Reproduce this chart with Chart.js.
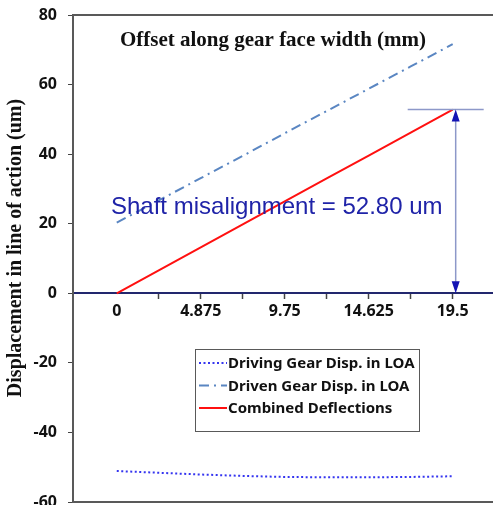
<!DOCTYPE html>
<html>
<head>
<meta charset="utf-8">
<script src="https://cdn.jsdelivr.net/npm/chart.js@4.4.0/dist/chart.umd.min.js"></script>
<style>
  html, body { margin: 0; padding: 0; background: #fff; }
</style>
</head>
<body>
<canvas id="chart" width="493" height="505"></canvas>
<script>
// data
const offsets = [0, 2.4375, 4.875, 7.3125, 9.75, 12.1875, 14.625, 17.0625, 19.5];
const xLabels = ['0', '4.875', '9.75', '14.625', '19.5'];
const yTicks = [-60, -40, -20, 0, 20, 40, 60, 80];
const drivingDisp = [-51.1, -51.6, -52.1, -52.5, -52.8, -52.9, -52.9, -52.8, -52.6];
const drivenDisp = [20.3, 26.7, 33.1, 39.5, 46.0, 52.4, 58.8, 65.2, 71.6];
const combined = [0, 6.6, 13.2, 19.8, 26.4, 33.0, 39.6, 46.2, 52.8];
const seriesNames = ['Driving Gear Disp. in LOA', 'Driven Gear Disp. in LOA', 'Combined Deflections'];
const misalignment = 52.80;

const toPoints = vals => vals.map((v, i) => ({ x: offsets[i], y: v }));

const tickFont = { family: 'Noto Sans', size: 16, weight: 'bold' };

// frame, titles, misalignment arrow and legend box
const decor = {
  id: 'decor',
  afterDraw(chart) {
    const { ctx, chartArea: a, scales } = chart;
    const xs = scales.x, ys = scales.y;
    ctx.save();

    // plot frame (top / left / bottom)
    ctx.strokeStyle = '#595959';
    ctx.lineWidth = 2;
    ctx.beginPath();
    ctx.moveTo(a.right + 2, a.top);
    ctx.lineTo(a.left, a.top);
    ctx.lineTo(a.left, a.bottom);
    ctx.lineTo(a.right + 2, a.bottom);
    ctx.stroke();

    // x axis title inside the plot
    ctx.fillStyle = '#111';
    ctx.font = 'bold 21px "Liberation Serif"';
    ctx.textAlign = 'center';
    ctx.textBaseline = 'middle';
    ctx.fillText('Offset along gear face width (mm)', 273, 41);

    // y axis title
    ctx.save();
    ctx.translate(16, 248);
    ctx.rotate(-Math.PI / 2);
    ctx.font = 'bold 20px "Liberation Serif"';
    ctx.fillText('Displacement in line of action (um)', 0, 0);
    ctx.restore();

    // misalignment dimension
    const ax = xs.getPixelForValue(offsets[offsets.length - 1]) + 3;
    const yTop = ys.getPixelForValue(misalignment);
    const yBot = ys.getPixelForValue(0);
    ctx.strokeStyle = '#8d98c9';
    ctx.lineWidth = 1.5;
    ctx.beginPath();
    ctx.moveTo(ax - 48, yTop);
    ctx.lineTo(ax + 28, yTop);
    ctx.moveTo(ax, yTop + 4);
    ctx.lineTo(ax, yBot - 4);
    ctx.stroke();
    ctx.fillStyle = '#1414b4';
    ctx.beginPath();
    ctx.moveTo(ax, yTop);
    ctx.lineTo(ax - 4, yTop + 12);
    ctx.lineTo(ax + 4, yTop + 12);
    ctx.closePath();
    ctx.moveTo(ax, yBot);
    ctx.lineTo(ax - 4, yBot - 12);
    ctx.lineTo(ax + 4, yBot - 12);
    ctx.closePath();
    ctx.fill();

    ctx.fillStyle = '#1f23a8';
    ctx.font = '24px "Liberation Sans"';
    ctx.textAlign = 'left';
    ctx.fillText('Shaft misalignment = ' + misalignment.toFixed(2) + ' um', 111, 207);

    // legend box
    const lx = 195, ly = 349, lw = 224, lh = 82;
    ctx.fillStyle = '#fff';
    ctx.fillRect(lx, ly, lw, lh);
    ctx.strokeStyle = '#595959';
    ctx.lineWidth = 1;
    ctx.strokeRect(lx + 0.5, ly + 0.5, lw, lh);
    ctx.font = 'bold 15px "Noto Sans"';
    chart.data.datasets.forEach((ds, i) => {
      const ry = 363 + i * 22.5;
      ctx.strokeStyle = ds.borderColor;
      ctx.lineWidth = 2;
      ctx.setLineDash(ds.borderDash || []);
      ctx.beginPath();
      ctx.moveTo(lx + 4, ry);
      ctx.lineTo(lx + 32, ry);
      ctx.stroke();
      ctx.setLineDash([]);
      ctx.fillStyle = '#111';
      ctx.fillText(ds.label, lx + 33, ry + 1);
    });

    ctx.restore();
  }
};

new Chart(document.getElementById('chart'), {
  type: 'line',
  data: {
    datasets: [
      {
        label: seriesNames[0],
        data: toPoints(drivingDisp),
        borderColor: '#3535f0',
        borderWidth: 2,
        borderDash: [2, 2.5],
        pointRadius: 0,
        fill: false
      },
      {
        label: seriesNames[1],
        data: toPoints(drivenDisp),
        borderColor: '#5a86c2',
        borderWidth: 2,
        borderDash: [10, 5, 2, 5],
        pointRadius: 0,
        fill: false
      },
      {
        label: seriesNames[2],
        data: toPoints(combined),
        borderColor: '#ff1010',
        borderWidth: 2,
        pointRadius: 0,
        fill: false
      }
    ]
  },
  options: {
    responsive: false,
    animation: false,
    layout: { padding: { top: 15, bottom: 3, left: 0, right: 0 } },
    plugins: { legend: { display: false }, tooltip: { enabled: false } },
    scales: {
      x: {
        type: 'linear',
        position: { y: 0 },
        min: -2.54,
        max: 21.84,
        afterBuildTicks: scale => { scale.ticks = offsets.map(v => ({ value: v })); },
        border: { display: true, color: '#22276e', width: 2 },
        grid: {
          drawOnChartArea: false,
          tickLength: 5,
          tickWidth: 1.5,
          color: c => (c.tick && c.tick.value === 0) ? 'rgba(0,0,0,0)' : '#444'
        },
        ticks: {
          autoSkip: false,
          maxRotation: 0,
          padding: 4,
          color: '#111',
          font: tickFont,
          callback: (v, i) => (i % 2 === 0 ? xLabels[i / 2] : '')
        }
      },
      y: {
        min: -60,
        max: 80,
        afterBuildTicks: scale => { scale.ticks = yTicks.map(v => ({ value: v })); },
        afterFit: scale => {
          scale.width = 73;
          scale.paddingTop = 0;
          scale.paddingBottom = 0;
        },
        border: { display: false },
        grid: { drawOnChartArea: false, tickLength: 5, color: '#444' },
        ticks: { padding: 11, color: '#111', font: tickFont }
      }
    }
  },
  plugins: [decor]
});
</script>
</body>
</html>
